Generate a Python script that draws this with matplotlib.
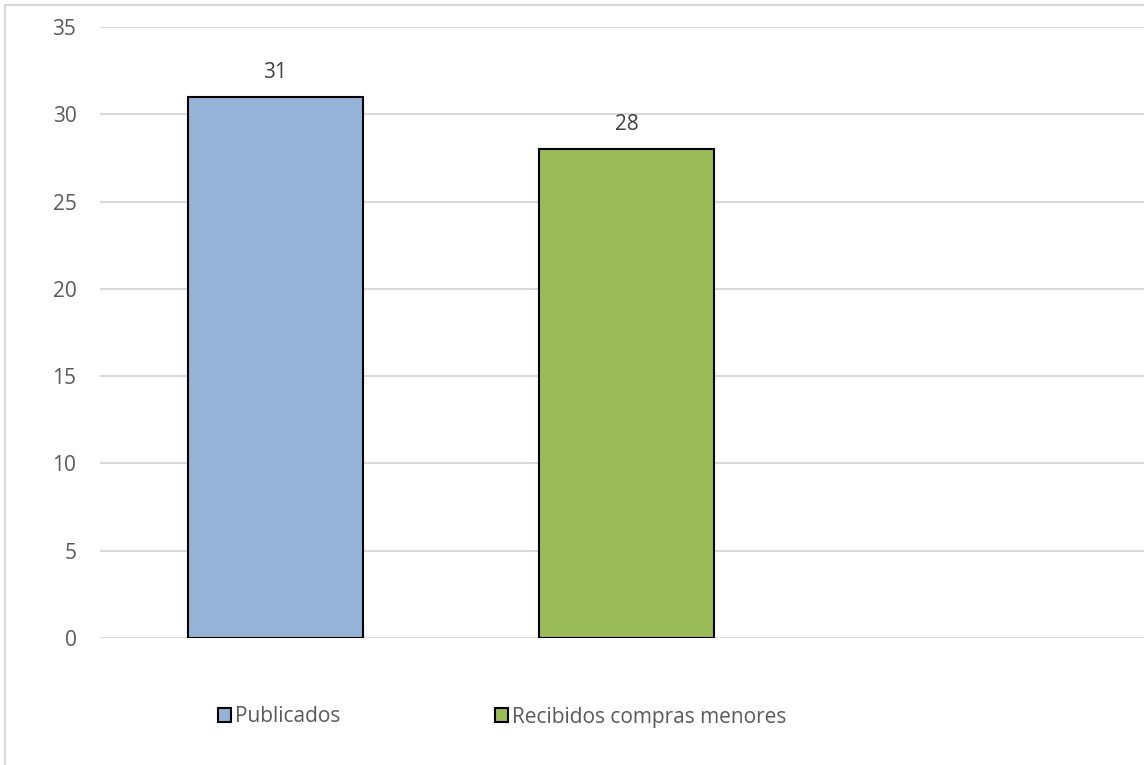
import matplotlib.pyplot as plt
from matplotlib.patches import Rectangle, Patch

categorias = ["Publicados", "Recibidos compras menores", ""]
valores = [31, 28]
colores = ["#95B3D7", "#9BBB59"]

plt.rcParams['font.family'] = ['Open Sans', 'DejaVu Sans']

fig = plt.figure(figsize=(11.44, 7.65), dpi=100)
W, H = 1144.0, 765.0
ax = fig.add_axes([100/W, (H-638)/H, 1053/W, (638-27)/H])

x = list(range(len(valores)))
barras = ax.bar(x, valores, width=0.5, color=colores, edgecolor="black",
                linewidth=1.5, zorder=3)
for b, v in zip(barras, valores):
    ax.annotate(str(v), (b.get_x()+b.get_width()/2, v), xytext=(0, 17.5),
                textcoords="offset points", ha="center", va="center",
                fontsize=15, color="#404040")

ax.set_xlim(-0.5, 2.5)
ax.set_ylim(0, 35)
ax.set_yticks(range(0, 36, 5))
ax.set_xticks([])
ax.yaxis.grid(True, color="#D9D9D9", linewidth=1.5, zorder=0)
for s in ax.spines.values():
    s.set_visible(False)
ax.tick_params(axis="y", length=0, pad=17, labelsize=15, labelcolor="#595959")

# borde del area del grafico
fig.patches.append(Rectangle((5/W, -0.1), 1.2, 1 - 5/H + 0.1,
                             transform=fig.transFigure, fill=False,
                             edgecolor="#D9D9D9", linewidth=1.5))

handles = [Patch(facecolor=c, edgecolor="black", linewidth=1.5) for c in colores]
fig.legend(handles, categorias[:2], loc="center", bbox_to_anchor=(502/W, 1-717/H),
           ncol=2, frameon=False, fontsize=15, labelcolor="#595959",
           handlelength=0.63, handleheight=0.63, handletextpad=0.2,
           columnspacing=7.4)

fig.savefig("out.png", dpi=100)
